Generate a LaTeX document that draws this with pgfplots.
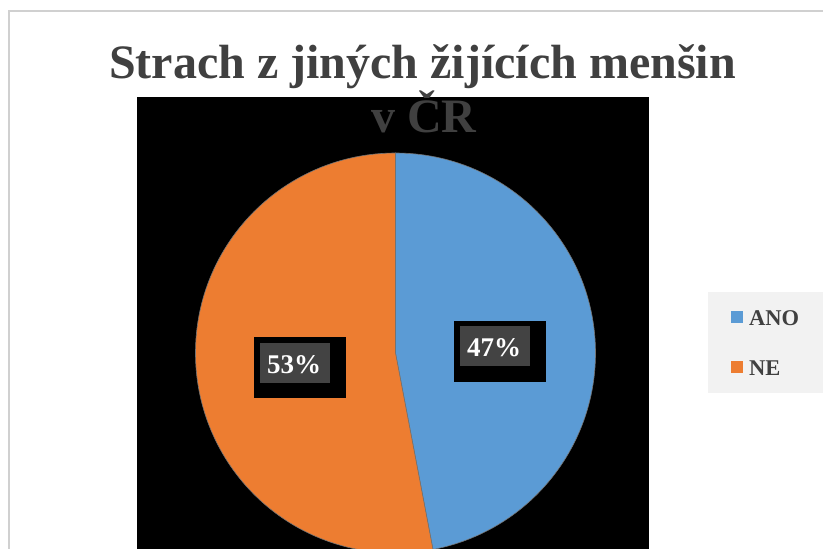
\documentclass[border=0pt]{standalone}
\usepackage{pgfplots}
\pgfplotsset{compat=1.18}
\usepackage{pgfplotstable}
\usepackage{fontspec}
\setmainfont{Liberation Serif}
\definecolor{ano}{HTML}{5B9BD5}
\definecolor{ne}{HTML}{ED7D31}
\definecolor{txt}{HTML}{404040}
\definecolor{lblgrey}{HTML}{434343}
\definecolor{legbg}{HTML}{F2F2F2}
\definecolor{frame}{HTML}{D0D0D0}
\pgfplotstableread{
label value
ANO 47
NE 53
}\piedata
\pgfplotstablegetelem{0}{value}\of\piedata
\edef\valA{\pgfplotsretval}
\pgfplotstablegetelem{1}{value}\of\piedata
\edef\valB{\pgfplotsretval}
\pgfmathsetmacro\angA{90-3.6*\valA}
\pgfmathsetmacro\angB{\angA+360}
\begin{document}
\begin{tikzpicture}
\begin{scope}
\clip (0,0) rectangle (823pt,-549pt);
\begin{scope}[x=1pt,y=-1pt]
\fill[white] (0,0) rectangle (823,549);
\draw[line width=2pt, color=frame] (9,560) -- (9,10.5) -- (830,10.5);
\fill[black] (137,97) rectangle (649,560);
\node[anchor=base, text=txt, font=\fontsize{48pt}{58pt}\selectfont\bfseries, inner sep=0pt] at (422.5,78) {Strach z jiných žijících menšin};
\node[anchor=base, text=txt, font=\fontsize{48pt}{58pt}\selectfont\bfseries, inner sep=0pt] at (424,132) {v ČR};
\end{scope}
\begin{axis}[at={(395.5pt,-353pt)}, anchor=center, width=400pt, height=400pt,
  scale only axis, hide axis,
  xmin=-200, xmax=200, ymin=-200, ymax=200, clip=false]
\addplot[draw=none, forget plot] coordinates {(0,0)};
\fill[ano, draw=black!55, line width=0.6pt] (axis cs:0,0) -- (axis cs:0,200) arc[start angle=90, end angle=\angA, radius=200pt] -- cycle;
\fill[ne, draw=black!55, line width=0.6pt] (axis cs:0,0) -- (axis cs:0,200) arc[start angle=90, end angle=\angB, radius=200pt] -- cycle;
\end{axis}
\begin{scope}[x=1pt,y=-1pt]
% data labels
\fill[black] (454,321) rectangle (546,382);
\fill[lblgrey] (460,326) rectangle (530,366);
\node[text=white, font=\fontsize{27pt}{32pt}\selectfont\bfseries, inner sep=0pt, anchor=base] at (494,356.5) {\valA\%};
\fill[black] (254,337) rectangle (346,398);
\fill[lblgrey] (260,343) rectangle (330,383);
\node[text=white, font=\fontsize{27pt}{32pt}\selectfont\bfseries, inner sep=0pt, anchor=base] at (294,373) {\valB\%};
% legend
\fill[legbg] (708,292) rectangle (830,393);
\fill[ano] (731,311) rectangle (743,323);
\node[text=txt, font=\fontsize{22.5pt}{27pt}\selectfont\bfseries, inner sep=0pt, anchor=base west] at (749,325) {ANO};
\fill[ne] (731,361) rectangle (743,373);
\node[text=txt, font=\fontsize{22.5pt}{27pt}\selectfont\bfseries, inner sep=0pt, anchor=base west] at (749,375) {NE};
\end{scope}
\end{scope}
\pgfresetboundingbox
\useasboundingbox (0,0) rectangle (823pt,-549pt);
\end{tikzpicture}
\end{document}
